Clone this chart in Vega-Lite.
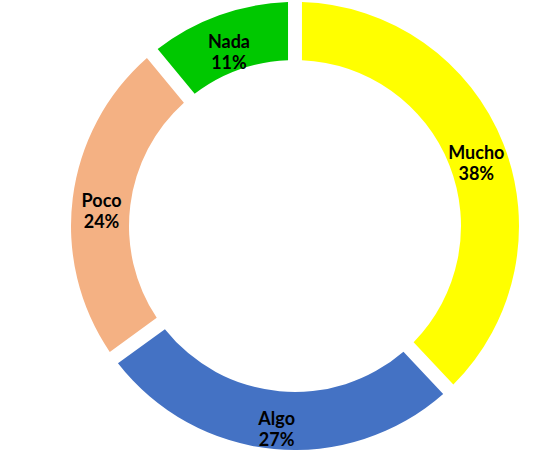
{
  "$schema": "https://vega.github.io/schema/vega-lite/v6.json",
  "width": 559,
  "height": 470,
  "autosize": {"type": "fit", "contains": "padding"},
  "padding": {"left": 31, "top": 2, "right": 0, "bottom": 20},
  "background": "white",
  "view": {"stroke": null},
  "data": {
    "values": [
      {"cat": "Mucho", "pct": 38, "ord": 1},
      {"cat": "Algo", "pct": 27, "ord": 2},
      {"cat": "Poco", "pct": 24, "ord": 3},
      {"cat": "Nada", "pct": 11, "ord": 4}
    ]
  },
  "transform": [
    {"calculate": "datum.cat + '\\n' + datum.pct + '%'", "as": "label"}
  ],
  "encoding": {
    "theta": {"field": "pct", "type": "quantitative", "stack": true},
    "order": {"field": "ord", "type": "quantitative"}
  },
  "layer": [
    {
      "mark": {"type": "arc", "innerRadius": 166, "outerRadius": 224, "padAngle": 0.05},
      "encoding": {
        "color": {
          "field": "cat",
          "type": "nominal",
          "scale": {
            "domain": ["Mucho", "Algo", "Poco", "Nada"],
            "range": ["#FFFF00", "#4472C4", "#F4B183", "#00C800"]
          },
          "legend": null
        }
      }
    },
    {
      "mark": {
        "type": "text",
        "radius": 195,
        "font": "Lato",
        "fontWeight": "bold",
        "fontSize": 18,
        "lineBreak": "\n",
        "lineHeight": 21,
        "fill": "black",
        "baseline": "middle",
        "align": "center"
      },
      "encoding": {
        "text": {"field": "label"}
      }
    }
  ]
}
